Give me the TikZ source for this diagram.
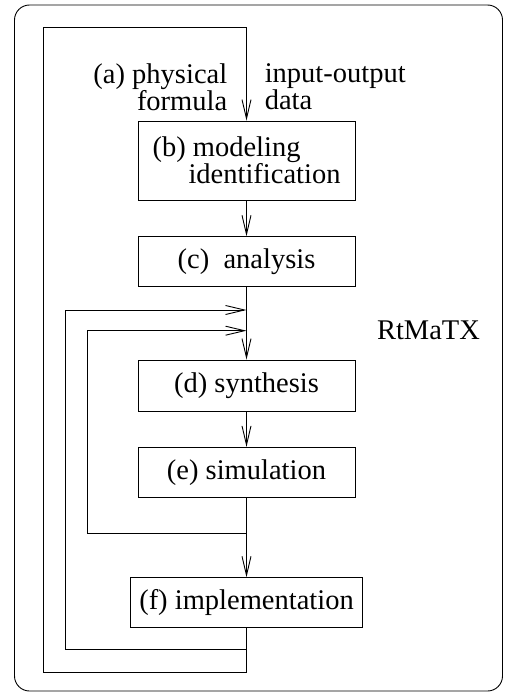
\documentclass[tikz,border=0pt]{standalone}
\usepackage{fontspec}
\setmainfont{Liberation Serif}
\usetikzlibrary{arrows.meta,positioning}

\begin{document}
\begin{tikzpicture}[
  x=1pt,y=-1pt,
  font=\fontsize{28.5}{27}\selectfont,
  line width=.9pt,
  stage/.style={draw,minimum width=217pt,minimum height=50pt,
                inner sep=0pt,align=center},
  flow/.style={-{Straight Barb[length=19pt,width=9pt,line width=.9pt]}}
]
\useasboundingbox (0,0) rectangle (507,693);
\draw[rounded corners=15pt] (14.5,5) rectangle (502.5,691);
\node[stage,minimum height=79pt,align=left] (model) at (246.5,160.5)
  {(b) modeling\\\hspace*{36pt}identification};
\node[stage] (analysis) at (246.5,261.7) {(c)\ \ analysis};
\node[stage,minimum height=51pt] (synth) at (246.5,385.5) {(d) synthesis};
\node[stage] (simul) at (246.5,472.3) {(e) simulation};
\node[stage,minimum width=232pt] (impl) at (246.5,602.7) {(f) implementation};
\node[align=right,anchor=east] (formula) at (231,87) {(a) physical\\formula};
\node[align=left,anchor=west] (iodata) at (261,87) {input-output\\data};
\node (rtmatx) at (428.5,330.5) {RtMaTX};
\coordinate (join1) at (246.5,310);
\coordinate (join2) at (246.5,330.7);
\draw[flow] (model) -- (analysis);
\draw[flow] (analysis) -- (synth);
\draw[flow] (synth) -- (simul);
\draw[flow] (simul) -- (impl);
\draw[flow] (impl.south) -- ++(0,44) -| (43,27) -| (model.north);
\draw[flow] (impl.south) -- ++(0,21.6) -| (65.7,310) -- (join1);
\draw[flow] (simul.south) -- ++(0,36) -| (87.3,330.7) -- (join2);
\end{tikzpicture}
\end{document}
